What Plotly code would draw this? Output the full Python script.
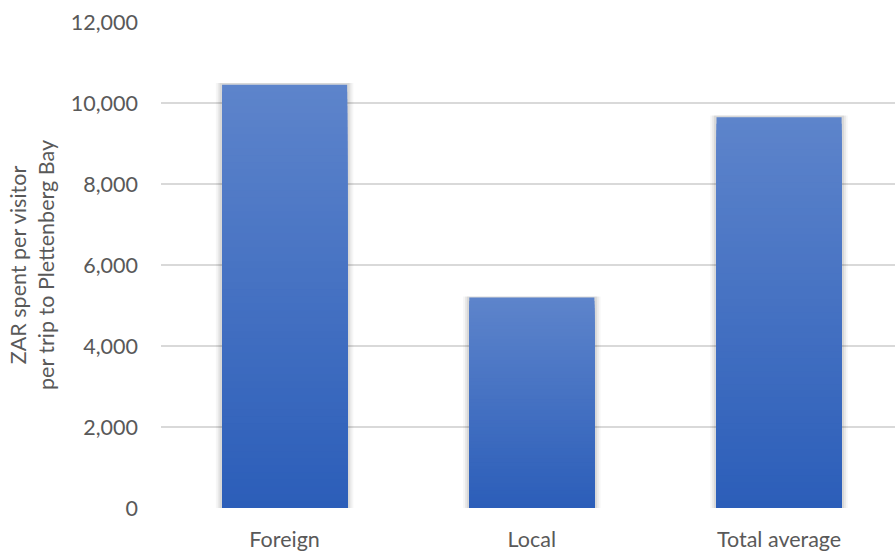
import plotly.graph_objects as go

# Average spend per visitor per trip (ZAR)
categories = ["Foreign", "Local", "Total average"]
spend_zar = [10450, 5200, 9650]

y_ticks = [0, 2000, 4000, 6000, 8000, 10000, 12000]

BAR_WIDTH = 0.506
TOP_RGB = (93, 132, 203)
BOTTOM_RGB = (44, 94, 185)
N_STEPS = 60

fig = go.Figure()

# soft drop shadow behind each bar
for dw, alpha in [(0.05, 0.035), (0.035, 0.05), (0.02, 0.07)]:
    fig.add_trace(go.Bar(
        x=categories, y=[v * 1.004 for v in spend_zar],
        width=BAR_WIDTH + dw, marker=dict(color=f"rgba(0,0,0,{alpha})", line_width=0),
        hoverinfo="skip", showlegend=False,
    ))

# vertical gradient: full-height light bar, then progressively shorter darker bars on top
for k in range(N_STEPS):
    frac = (N_STEPS - k) / N_STEPS
    t = k / (N_STEPS - 1)
    r, g, b = (round(TOP_RGB[j] + (BOTTOM_RGB[j] - TOP_RGB[j]) * t) for j in range(3))
    fig.add_trace(go.Bar(
        x=categories, y=[v * frac for v in spend_zar],
        width=BAR_WIDTH, marker=dict(color=f"rgb({r},{g},{b})", line_width=0),
        hoverinfo="skip" if k else None, showlegend=False,
    ))

font_family = "Lato, 'Open Sans', sans-serif"
FS = 21.5

fig.update_layout(
    width=895, height=552,
    barmode="overlay",
    plot_bgcolor="white", paper_bgcolor="white",
    margin=dict(l=161, r=0, t=22, b=44),
    font=dict(family=font_family, size=FS, color="#595959"),
    xaxis=dict(
        range=[-0.5, 2.469], showgrid=False, zeroline=False,
        showline=False, ticks="", ticklabelstandoff=16,
        tickfont=dict(size=FS, color="#595959"),
    ),
    yaxis=dict(
        range=[0, 12000], tickvals=y_ticks, tickformat=",",
        showgrid=True, gridcolor="#D9D9D9", gridwidth=1.5,
        zeroline=False, showline=False, ticks="",
        ticklabelstandoff=22, tickfont=dict(size=FS, color="#595959"),
        title=dict(text="ZAR spent per visitor<br>per trip to Plettenberg Bay",
                   font=dict(size=FS, color="#595959"), standoff=10),
    ),
)

fig.write_html("out.html")
